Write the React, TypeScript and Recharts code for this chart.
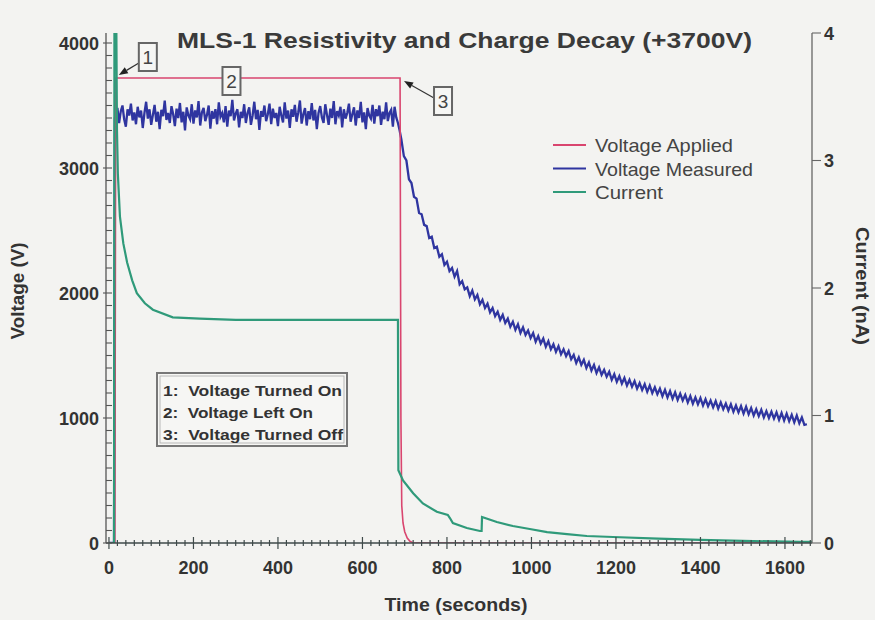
import React from 'react';
import { LineChart, Line, XAxis, YAxis, ReferenceDot } from 'recharts';

// ---------- data ----------
// Voltage Applied (V) vs time (s)
const appliedTime = [0, 14, 16, 689, 691, 693, 696, 700, 706, 712, 720, 1664];
const appliedVolt = [0, 0, 3720, 3720, 1000, 300, 160, 90, 40, 15, 0, 0];

// Voltage Measured (V): lead-in, then flat samples every 4 s, decay samples every 6 s
const measuredLeadTime = [0, 12, 14];
const measuredLeadVolt = [0, 0, 3400];
const flatStep = 4;
const measuredFlatStart = 16;
const measuredFlat = [
  3410, 3480, 3360, 3455, 3500, 3390, 3330, 3470, 3420, 3515, 3380, 3445, 3350,
  3490, 3405, 3460, 3320, 3440, 3530, 3395, 3470, 3345, 3425, 3505, 3370, 3450,
  3310, 3465, 3415, 3540, 3385, 3440, 3360, 3495, 3430, 3335, 3475, 3400, 3520,
  3365, 3450, 3300, 3485, 3420, 3390, 3510, 3355, 3460, 3405, 3535, 3340, 3445,
  3480, 3375, 3425, 3500, 3315, 3455, 3395, 3470, 3350, 3525, 3410, 3440, 3365,
  3495, 3330, 3460, 3415, 3545, 3380, 3435, 3470, 3325, 3450, 3400, 3510, 3360,
  3440, 3485, 3345, 3420, 3530, 3390, 3465, 3305, 3455, 3410, 3500, 3375, 3430,
  3515, 3350, 3475, 3400, 3440, 3335, 3490, 3420, 3365, 3525, 3395, 3460, 3320,
  3470, 3410, 3505, 3370, 3445, 3540, 3355, 3430, 3480, 3340, 3455, 3390, 3520,
  3380, 3465, 3310, 3440, 3495, 3405, 3360, 3510, 3425, 3345, 3475, 3400, 3535,
  3350, 3455, 3420, 3490, 3325, 3470, 3395, 3440, 3515, 3370, 3430, 3485, 3340,
  3460, 3400, 3530, 3365, 3445, 3310, 3480, 3420, 3395, 3505, 3355, 3470, 3415,
  3500, 3345, 3450, 3390, 3525, 3375, 3440, 3465, 3330, 3490, 3405, 3360, 3300,
];
const decayStep = 6;
const measuredDecayStart = 692;
const measuredDecay = [
  3230, 3095, 3060, 2910, 2880, 2770, 2755, 2640, 2630, 2545,
  2535, 2440, 2450, 2360, 2370, 2290, 2310, 2225, 2250, 2175,
  2200, 2130, 2175, 2070, 2095, 2030, 2045, 1975, 2020, 1950,
  1985, 1910, 1945, 1880, 1915, 1845, 1880, 1815, 1850, 1785,
  1825, 1760, 1795, 1730, 1770, 1705, 1750, 1680, 1725, 1665,
  1700, 1640, 1680, 1610, 1655, 1595, 1635, 1570, 1615, 1550,
  1590, 1530, 1575, 1510, 1550, 1495, 1535, 1470, 1505, 1440,
  1485, 1425, 1465, 1400, 1445, 1380, 1425, 1360, 1405, 1345,
  1385, 1330, 1370, 1305, 1350, 1290, 1335, 1275, 1320, 1260,
  1305, 1250, 1295, 1235, 1280, 1225, 1270, 1210, 1260, 1200,
  1245, 1190, 1235, 1175, 1225, 1165, 1215, 1155, 1205, 1145,
  1195, 1140, 1185, 1125, 1175, 1115, 1165, 1110, 1160, 1100,
  1150, 1095, 1140, 1085, 1135, 1075, 1125, 1070, 1115, 1060,
  1110, 1050, 1100, 1045, 1095, 1035, 1090, 1030, 1080, 1020,
  1070, 1015, 1065, 1005, 1055, 1000, 1050, 995, 1045, 985,
  1040, 980, 1035, 975, 1025, 965, 1020, 958, 1005, 945,
  950,
];

// Current (nA) vs time (s)
const currentTime = [
  0, 12, 13, 17, 19, 21, 26, 34, 43, 55,
  66, 85, 104, 151, 215, 300, 452, 550, 684, 685,
  696, 720, 743, 776, 802, 807, 814, 847, 878, 882,
  883, 918, 956, 996, 1037, 1084, 1131, 1193, 1300, 1399,
  1500, 1635, 1664,
];
const currentNA = [
  0, 0, 4.3, 4.3, 3.24, 2.9, 2.56, 2.35, 2.2, 2.06,
  1.96, 1.88, 1.83, 1.77, 1.76, 1.75, 1.75, 1.75, 1.75, 0.57,
  0.49, 0.39, 0.31, 0.245, 0.22, 0.196, 0.157, 0.118, 0.094, 0.094,
  0.204, 0.165, 0.133, 0.11, 0.086, 0.07, 0.055, 0.047, 0.035, 0.024,
  0.016, 0.01, 0.01,
];

// ticks
const xMajorTicks = [0, 200, 400, 600, 800, 1000, 1200, 1400, 1600];
const xMinorStep = 20;
const vMajorTicks = [0, 1000, 2000, 3000, 4000];
const vMinorStep = 100;
const iTicks = [0, 1, 2, 3, 4];

const legendItems = ['Voltage Applied', 'Voltage Measured', 'Current'];
const noteLines = ['1:  Voltage Turned On', '2:  Voltage Left On', '3:  Voltage Turned Off'];

// ---------- derived tables ----------
const appliedData = appliedTime.map((t, i) => ({ t, v: appliedVolt[i] }));
const measuredData = [
  ...measuredLeadTime.map((t, i) => ({ t, v: measuredLeadVolt[i] })),
  ...measuredFlat.map((v, i) => ({ t: measuredFlatStart + i * flatStep, v })),
  ...measuredDecay.map((v, i) => ({ t: measuredDecayStart + i * decayStep, v })),
];
const currentData = currentTime.map((t, i) => ({ t, v: currentNA[i] }));

const xTicks: number[] = [];
for (let t = 0; t <= 1660; t += xMinorStep) xTicks.push(t);
const vTicks: number[] = [];
for (let v = 0; v <= 4000; v += vMinorStep) vTicks.push(v);

// ---------- style ----------
const FONT = '"Liberation Sans", Arial, Helvetica, sans-serif';
const C_APPLIED = '#d9456f';
const C_MEASURED = '#2f35a0';
const C_CURRENT = '#2f9a7a';
const TXT = '#333';

const XTick = (props: any) => {
  const { x, y, payload } = props;
  const major = xMajorTicks.includes(payload.value);
  const h = major ? 6 : 3;
  return (
    <g>
      <line x1={x} x2={x} y1={y - h} y2={y + h} stroke="#3f4a4a" strokeWidth={1.2} />
      {major && (
        <text x={x} y={y + 31} textAnchor="middle" fontSize={18} fontWeight="bold" fill={TXT} fontFamily={FONT}>
          {payload.value}
        </text>
      )}
    </g>
  );
};

const LeftTick = (props: any) => {
  const { x, y, payload } = props;
  const major = vMajorTicks.includes(payload.value);
  return (
    <g>
      <line x1={major ? x - 3 : x} x2={x + 6} y1={y} y2={y} stroke="#555" strokeWidth={1.1} />
      {major && (
        <text x={x - 7} y={y + 6.5} textAnchor="end" fontSize={18} fontWeight="bold" fill={TXT} fontFamily={FONT}>
          {payload.value}
        </text>
      )}
    </g>
  );
};

const RightTick = (props: any) => {
  const { x, y, payload } = props;
  return (
    <g>
      <line x1={x} x2={x + 9} y1={y} y2={y} stroke="#666" strokeWidth={1.1} />
      <text x={x + 12} y={y + 6.5} textAnchor="start" fontSize={18} fontWeight="bold" fill={TXT} fontFamily={FONT}>
        {payload.value}
      </text>
    </g>
  );
};

function Arrow({ x1, y1, x2, y2 }: { x1: number; y1: number; x2: number; y2: number }) {
  const a = Math.atan2(y2 - y1, x2 - x1);
  const L = 9, w = 3.5;
  const bx = x2 - L * Math.cos(a), by = y2 - L * Math.sin(a);
  const p1 = `${x2},${y2}`;
  const p2 = `${bx - w * Math.sin(a)},${by + w * Math.cos(a)}`;
  const p3 = `${bx + w * Math.sin(a)},${by - w * Math.cos(a)}`;
  return (
    <g>
      <line x1={x1} y1={y1} x2={bx} y2={by} stroke="#333" strokeWidth={1.2} />
      <polygon points={`${p1} ${p2} ${p3}`} fill="#222" />
    </g>
  );
}

function NumBox({ x, y, label }: { x: number; y: number; label: string }) {
  return (
    <g>
      <rect x={x} y={y} width={18} height={28} fill="#f6f6f4" stroke="#666" strokeWidth={2} />
      <text x={x + 9} y={y + 21} textAnchor="middle" fontSize={19} fill="#444" fontFamily={FONT}>
        {label}
      </text>
    </g>
  );
}

const Callout1 = (p: any) => (
  <g>
    <Arrow x1={p.cx + 21} y1={p.cy - 13} x2={p.cx + 1} y2={p.cy - 1} />
    <NumBox x={p.cx + 21} y={p.cy - 33} label="1" />
  </g>
);
const Callout2 = (p: any) => (
  <g>
    <NumBox x={p.cx - 9} y={p.cy - 11} label="2" />
  </g>
);
const Callout3 = (p: any) => (
  <g>
    <Arrow x1={p.cx + 31} y1={p.cy + 18} x2={p.cx + 1} y2={p.cy + 1} />
    <NumBox x={p.cx + 31} y={p.cy + 7} label="3" />
  </g>
);

export default function App() {
  return (
    <div style={{ position: 'absolute', left: 0, top: 0, width: 875, height: 620, background: '#f3f3f1', overflow: 'hidden' }}>
      <LineChart width={875} height={620} margin={{ top: 33, right: 62, bottom: 76, left: 105 }}>
        <XAxis
          dataKey="t"
          type="number"
          domain={[-7, 1664]}
          allowDataOverflow
          ticks={xTicks}
          interval={0}
          tick={XTick}
          tickLine={false}
          tickSize={0}
          tickMargin={0}
          height={1}
          axisLine={{ stroke: '#3f4a4a', strokeWidth: 1.5 }}
        />
        <YAxis
          yAxisId="v"
          orientation="left"
          type="number"
          domain={[0, 4080]}
          allowDataOverflow
          ticks={vTicks}
          interval={0}
          tick={LeftTick}
          tickLine={false}
          tickSize={0}
          tickMargin={0}
          width={1}
          axisLine={{ stroke: '#555', strokeWidth: 1.3 }}
        />
        <YAxis
          yAxisId="i"
          orientation="right"
          type="number"
          domain={[0, 4]}
          allowDataOverflow
          ticks={iTicks}
          interval={0}
          tick={RightTick}
          tickLine={false}
          tickSize={0}
          tickMargin={0}
          width={1}
          axisLine={{ stroke: '#666', strokeWidth: 1.3 }}
        />
        <Line yAxisId="v" data={measuredData} dataKey="v" type="linear" stroke={C_MEASURED} strokeWidth={2.3} strokeLinejoin="miter" dot={false} isAnimationActive={false} />
        <Line yAxisId="v" data={appliedData} dataKey="v" type="linear" stroke={C_APPLIED} strokeWidth={1.6} dot={false} isAnimationActive={false} />
        <Line yAxisId="i" data={currentData} dataKey="v" type="linear" stroke={C_CURRENT} strokeWidth={2.2} dot={false} isAnimationActive={false} />
        <ReferenceDot yAxisId="v" x={21} y={3736} r={0} shape={Callout1} ifOverflow="visible" />
        <ReferenceDot yAxisId="v" x={290} y={3720} r={0} shape={Callout2} ifOverflow="visible" />
        <ReferenceDot yAxisId="v" x={696} y={3704} r={0} shape={Callout3} ifOverflow="visible" />
      </LineChart>
      <svg width={875} height={620} style={{ position: 'absolute', left: 0, top: 0, pointerEvents: 'none' }} fontFamily={FONT}>
        <text x={177} y={48} fontSize={22} fontWeight="bold" fill="#3a3a3a" textLength={575} lengthAdjust="spacingAndGlyphs">
          MLS-1 Resistivity and Charge Decay (+3700V)
        </text>
        <text x={456} y={611} textAnchor="middle" fontSize={18} fontWeight="bold" fill={TXT} textLength={143} lengthAdjust="spacingAndGlyphs">
          Time (seconds)
        </text>
        <text transform="translate(24,291) rotate(-90)" textAnchor="middle" fontSize={18} fontWeight="bold" fill={TXT} textLength={97} lengthAdjust="spacingAndGlyphs">
          Voltage (V)
        </text>
        <text transform="translate(856,286) rotate(90)" textAnchor="middle" fontSize={18} fontWeight="bold" fill={TXT} textLength={118} lengthAdjust="spacingAndGlyphs">
          Current (nA)
        </text>
        {legendItems.map((name, i) => {
          const colors = [C_APPLIED, C_MEASURED, C_CURRENT];
          const lens = [138, 158, 68];
          const ly = 145 + i * 23.5;
          return (
            <g key={name}>
              <line x1={553} x2={586} y1={ly} y2={ly} stroke={colors[i]} strokeWidth={2} />
              <text x={595} y={ly + 7} fontSize={18.5} fill="#444" textLength={lens[i]} lengthAdjust="spacingAndGlyphs">
                {name}
              </text>
            </g>
          );
        })}
        <rect x={157} y={373} width={190} height={73} fill="#f6f6f4" stroke="#777" strokeWidth={2} />
        <rect x={160} y={376} width={184} height={67} fill="none" stroke="#aaa" strokeWidth={0.8} />
        {noteLines.map((s, i) => {
          const lens = [179, 150, 180];
          return (
            <text key={s} x={163} y={396 + i * 22} fontSize={14.5} fontWeight="bold" fill={TXT} textLength={lens[i]} lengthAdjust="spacingAndGlyphs" xmlSpace="preserve">
              {s}
            </text>
          );
        })}
      </svg>
    </div>
  );
}
